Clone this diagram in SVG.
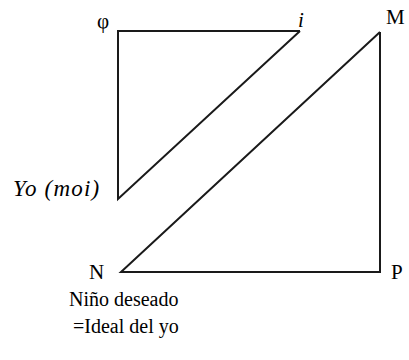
<svg xmlns="http://www.w3.org/2000/svg" width="409" height="360" viewBox="0 0 409 360" font-family="'Liberation Serif', 'Times New Roman', serif">
<rect width="409" height="360" fill="#fff"/>
<g id="connectors" fill="none" stroke="#1a1a1a" stroke-width="2">
<polyline points="300,31 118,31 118,199 300,31"/>
<polyline points="380,32 380,272 121,272 380,32"/>
</g>
<g id="nino"><text x="69" y="306" font-family="Liberation Serif" font-size="20">Niño deseado</text><text x="73" y="333" font-family="Liberation Serif" font-size="20">=Ideal del yo</text></g>
<g id="N"><text x="89" y="279" font-family="Liberation Serif" font-size="21">N</text></g>
<g id="P"><text x="391" y="279" font-family="Liberation Serif" font-size="21">P</text></g>
<g id="M"><text x="386" y="24" font-family="Liberation Serif" font-size="21">M</text></g>
<g id="yo"><text x="13" y="196" font-family="Liberation Serif" font-size="23" font-style="italic" letter-spacing="1.2">Yo (moi)</text></g>
<g id="i"><text x="298" y="27" font-family="Liberation Serif" font-size="21" font-style="italic">i</text></g>
<g id="phi"><text x="97" y="28" font-family="Liberation Serif" font-size="21">φ</text></g>
</svg>
